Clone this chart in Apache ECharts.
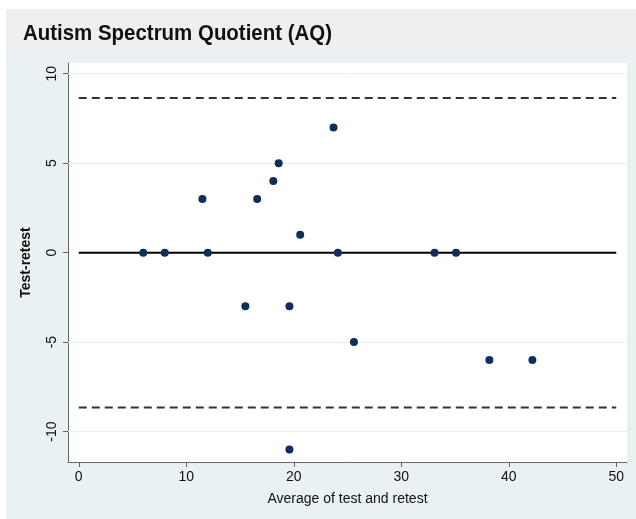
<!DOCTYPE html>
<html>
<head>
<meta charset="utf-8">
<script src="https://cdn.jsdelivr.net/npm/echarts@6/dist/echarts.min.js"></script>
<style>html,body{margin:0;padding:0;background:#fff}#c{width:636px;height:519px}</style>
</head>
<body>
<div id="c"></div>
<script>
var titleText = 'Autism Spectrum Quotient (AQ)';
var xAxisTitle = 'Average of test and retest';
var yAxisTitle = 'Test-retest';
var avgValues  = [6, 8, 11.5, 12, 15.5, 16.6, 18.1, 18.6, 19.6, 19.6, 20.6, 23.7, 24.1, 25.6, 33.1, 35.1, 38.2, 42.2];
var diffValues = [0, 0, 3, 0, -3, 3, 4, 5, -3, -11, 1, 7, 0, -5, 0, 0, -6, -6];
var xTicks = [0, 10, 20, 30, 40, 50];
var yTicks = [-10, -5, 0, 5, 10];
var meanDiff = 0;
var upperLimit = 8.65;
var lowerLimit = -8.65;
var lineSpan = [0, 50];

var points = avgValues.map(function (v, i) { return [v, diffValues[i]]; });
function hline(y) { return lineSpan.map(function (x) { return [x, y]; }); }

// fit title width to the reference's condensed look
var titleFont = 'bold 22px "Liberation Sans"';
var cv = document.createElement('canvas').getContext('2d');
cv.font = titleFont;
var titleScale = 309 / cv.measureText(titleText).width;

var chart = echarts.init(document.getElementById('c'), null, {renderer: 'canvas'});
chart.setOption({
  animation: false,
  backgroundColor: '#ffffff',
  graphic: [
    {type: 'rect', shape: {x: 6, y: 9, width: 630, height: 510}, style: {fill: '#e9f1f3'}, z: -10},
    {type: 'rect', shape: {x: 6, y: 9, width: 630, height: 54},
     style: {fill: new echarts.graphic.LinearGradient(0, 0, 0, 1, [
       {offset: 0, color: '#eeeff1'}, {offset: 0.75, color: '#eeeff1'}, {offset: 1, color: '#e9f1f3'}])}, z: -9},
    {type: 'text', x: 23, y: 23, scaleX: titleScale, z: 10,
     style: {text: titleText, font: titleFont, fill: '#111', verticalAlign: 'top', align: 'left'}}
  ],
  grid: {left: 68, right: 9, top: 63, bottom: 57, show: true, backgroundColor: '#ffffff', borderWidth: 0, containLabel: false},
  xAxis: {
    type: 'value', min: -1, max: 51,
    name: xAxisTitle, nameLocation: 'middle', nameGap: 30,
    nameTextStyle: {fontFamily: 'Liberation Sans', fontSize: 14, color: '#111'},
    axisLine: {show: true, onZero: false, lineStyle: {color: '#666', width: 1}},
    axisTick: {show: true, length: 5, customValues: xTicks, lineStyle: {color: '#666'}},
    axisLabel: {customValues: xTicks, margin: 8, fontFamily: 'Liberation Sans', fontSize: 14, color: '#111'},
    splitLine: {show: false}
  },
  yAxis: {
    type: 'value', min: -11.7, max: 10.6,
    name: yAxisTitle, nameLocation: 'middle', nameGap: 35, nameRotate: 90,
    nameTextStyle: {fontFamily: 'Liberation Sans', fontSize: 14, fontWeight: 'bold', color: '#111'},
    axisLine: {show: true, onZero: false, lineStyle: {color: '#666', width: 1}},
    axisTick: {show: true, length: 5, customValues: yTicks, lineStyle: {color: '#666'}},
    axisLabel: {customValues: yTicks, rotate: 90, margin: 9, fontFamily: 'Liberation Sans', fontSize: 14, color: '#111'},
    splitLine: {show: false}
  },
  series: [
    {
      type: 'scatter', data: [], silent: true, z: 1,
      markLine: {
        silent: true, symbol: 'none', label: {show: false}, z: 1,
        lineStyle: {color: '#e6eff2', width: 1, type: 'solid'},
        data: yTicks.filter(function (t) { return t !== meanDiff; }).map(function (t) { return {yAxis: t}; })
      }
    },
    {type: 'line', data: hline(meanDiff), symbol: 'none', lineStyle: {color: '#000', width: 2}, z: 2},
    {type: 'line', data: hline(upperLimit), symbol: 'none', lineStyle: {color: '#333', width: 2, type: [8, 5]}, z: 2},
    {type: 'line', data: hline(lowerLimit), symbol: 'none', lineStyle: {color: '#333', width: 2, type: [8, 5]}, z: 2},
    {type: 'scatter', data: points, symbolSize: 8, itemStyle: {color: '#0f2d5e', opacity: 1}, z: 3}
  ]
});
</script>
</body>
</html>
